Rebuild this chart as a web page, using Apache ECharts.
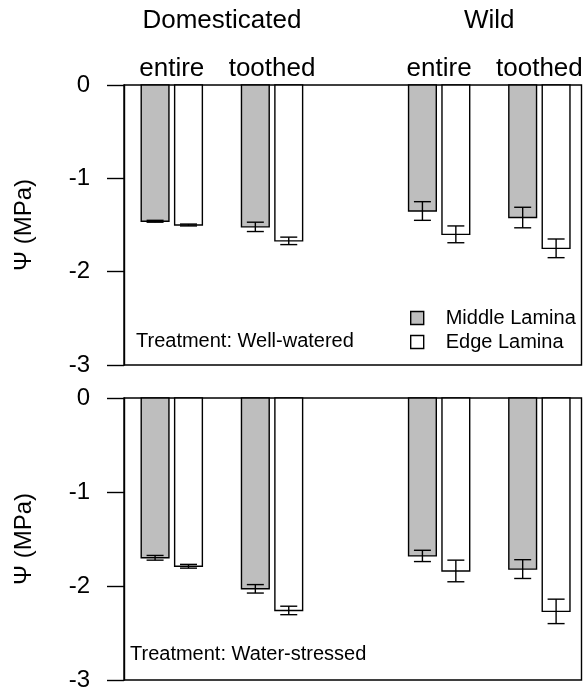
<!DOCTYPE html>
<html>
<head>
<meta charset="utf-8">
<script src="https://cdn.jsdelivr.net/npm/echarts@6/dist/echarts.min.js"></script>
<style>
html,body{margin:0;padding:0;background:#fff;}
#c{width:587px;height:696px;}
</style>
</head>
<body>
<div id="c"></div>
<script>
// ---- data ----
const groups = ['Domesticated', 'Wild'];
const leafTypes = ['entire', 'toothed'];
const laminae = ['Middle Lamina', 'Edge Lamina'];
const treatments = ['Treatment: Well-watered', 'Treatment: Water-stressed'];
const yTicks = [0, -1, -2, -3];
// order: Dom-entire-Middle, Dom-entire-Edge, Dom-toothed-Middle, Dom-toothed-Edge, Wild-entire-Middle, ...
const wellWateredMean = [-1.46, -1.50, -1.52, -1.67, -1.35, -1.60, -1.42, -1.75];
const wellWateredSE   = [0.01, 0.01, 0.05, 0.04, 0.10, 0.09, 0.11, 0.10];
const waterStressedMean = [-1.70, -1.79, -2.03, -2.26, -1.68, -1.84, -1.82, -2.27];
const waterStressedSE   = [0.025, 0.02, 0.045, 0.045, 0.06, 0.115, 0.10, 0.13];

const FONT = 'Liberation Sans, Arial, Helvetica, sans-serif';
const laminaColors = ['#bebebe', '#ffffff'];
const BAR_W = 0.83;

function slotOf(g, l, k) { return g * 8 + l * 3 + k; }

function buildData(means, ses, k) {
  const out = [];
  let i = 0;
  for (let g = 0; g < groups.length; g++)
    for (let l = 0; l < leafTypes.length; l++)
      for (let kk = 0; kk < laminae.length; kk++) {
        if (kk === k) out.push([slotOf(g, l, kk), means[i], ses[i]]);
        i++;
      }
  return out;
}

function renderBar(params, api) {
  const x = api.value(0), v = api.value(1), e = api.value(2);
  const a = api.coord([x - BAR_W / 2, 0]);
  const b = api.coord([x + BAR_W / 2, v]);
  const top = api.coord([x, v + e]);
  const bot = api.coord([x, v - e]);
  const cap = 8.5;
  const lineStyle = { stroke: '#000', lineWidth: 1.4 };
  return {
    type: 'group',
    children: [
      { type: 'rect', shape: { x: a[0], y: a[1], width: b[0] - a[0], height: b[1] - a[1] },
        style: { fill: api.visual('color'), stroke: '#000', lineWidth: 1.4 } },
      { type: 'line', shape: { x1: top[0], y1: top[1], x2: bot[0], y2: bot[1] }, style: lineStyle },
      { type: 'line', shape: { x1: top[0] - cap, y1: top[1], x2: top[0] + cap, y2: top[1] }, style: lineStyle },
      { type: 'line', shape: { x1: bot[0] - cap, y1: bot[1], x2: bot[0] + cap, y2: bot[1] }, style: lineStyle }
    ]
  };
}

const panels = [[wellWateredMean, wellWateredSE], [waterStressedMean, waterStressedSE]];
const gridTops = [85, 398];
const gridHeights = [280, 282];

const grid = [], xAxis = [], yAxis = [], series = [];
panels.forEach((p, pi) => {
  grid.push({ left: 124, top: gridTops[pi], width: 457.5, height: gridHeights[pi], show: true,
    borderColor: '#000', borderWidth: 1.4, backgroundColor: 'transparent', containLabel: false });
  xAxis.push({ type: 'value', gridIndex: pi, min: -0.93, max: 12.76, show: false });
  yAxis.push({ type: 'value', gridIndex: pi, min: yTicks[yTicks.length - 1], max: yTicks[0], interval: 1,
    position: 'left',
    name: 'Ψ (MPa)', nameLocation: 'middle', nameGap: 88, nameRotate: 90,
    nameTextStyle: { fontFamily: FONT, fontSize: 24, color: '#000' },
    axisLine: { show: true, onZero: false, lineStyle: { color: '#000', width: 1.4 } },
    axisTick: { show: true, length: 17, inside: false, lineStyle: { color: '#000', width: 1.4 } },
    axisLabel: { fontFamily: FONT, fontSize: 24, color: '#000', margin: 34 },
    splitLine: { show: false } });
  laminae.forEach((lam, k) => {
    series.push({ type: 'custom', name: lam, xAxisIndex: pi, yAxisIndex: pi,
      itemStyle: { color: laminaColors[k] },
      renderItem: renderBar, data: buildData(p[0], p[1], k), z: 5 });
  });
});

const chart = echarts.init(document.getElementById('c'), null, { renderer: 'canvas' });
chart.setOption({
  animation: false,
  backgroundColor: '#fff',
  grid, xAxis, yAxis, series,
  legend: {
    orient: 'vertical', left: 410, top: 308, itemGap: 4, padding: 0,
    itemWidth: 13, itemHeight: 13, icon: 'rect',
    textStyle: { fontFamily: FONT, fontSize: 20, color: '#000', padding: [0, 0, 0, 17] },
    selectedMode: false,
    data: laminae.map((n, k) => ({ name: n, itemStyle: { color: laminaColors[k], borderColor: '#000', borderWidth: 1.4 } }))
  }
});

// header labels, positioned through the x scale
const texts = [];
groups.forEach((g, gi) => {
  const cx = chart.convertToPixel({ xAxisIndex: 0 }, slotOf(gi, 0, 0) + 2);
  texts.push({ type: 'text', x: cx, y: 21, style: { text: g, fontFamily: FONT, fontSize: 26, fill: '#000', align: 'center', verticalAlign: 'middle' } });
  leafTypes.forEach((lt, li) => {
    const lx = chart.convertToPixel({ xAxisIndex: 0 }, slotOf(gi, li, 0) + 0.5);
    texts.push({ type: 'text', x: lx, y: 69, style: { text: lt, fontFamily: FONT, fontSize: 26, fill: '#000', align: 'center', verticalAlign: 'middle' } });
  });
});
texts.push({ type: 'text', x: 136, y: 341, style: { text: treatments[0], fontFamily: FONT, fontSize: 20, fill: '#000', align: 'left', verticalAlign: 'middle' } });
texts.push({ type: 'text', x: 130, y: 654, style: { text: treatments[1], fontFamily: FONT, fontSize: 20, fill: '#000', align: 'left', verticalAlign: 'middle' } });
chart.setOption({ graphic: texts });
</script>
</body>
</html>
